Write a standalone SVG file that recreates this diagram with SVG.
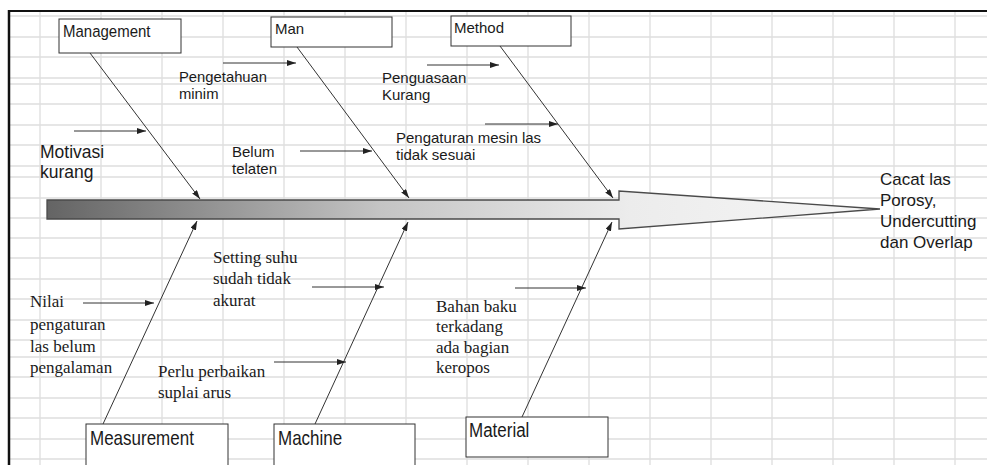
<svg xmlns="http://www.w3.org/2000/svg" width="987" height="465" viewBox="0 0 987 465">
<style>
.grid line{stroke:#dedede;stroke-width:1.3}
.box{fill:#fff;stroke:#333;stroke-width:1}
.sans{font-family:"Liberation Sans",Arial,sans-serif;fill:#1a1a1a}
.serif{font-family:"Liberation Serif","Times New Roman",serif;fill:#1a1a1a;font-size:17px}
.bone{stroke:#333;stroke-width:1;fill:none;marker-end:url(#ah)}
.sub{stroke:#333;stroke-width:1;fill:none;marker-end:url(#ah)}
</style>
<defs>
<marker id="ah" markerUnits="userSpaceOnUse" markerWidth="9" markerHeight="6" refX="9" refY="3" orient="auto">
<path d="M0,0 L9,3 L0,6 z" fill="#222"/>
</marker>
<linearGradient id="spine" x1="47" y1="0" x2="880" y2="0" gradientUnits="userSpaceOnUse">
<stop offset="0" stop-color="#646464"/>
<stop offset="0.4" stop-color="#c4c4c4"/>
<stop offset="0.7" stop-color="#ececec"/>
<stop offset="1" stop-color="#f6f6f6"/>
</linearGradient>
</defs>
<rect width="987" height="465" fill="#fff"/>
<g class="grid">
<line x1="40" y1="10" x2="40" y2="465"/><line x1="101" y1="10" x2="101" y2="465"/><line x1="162" y1="10" x2="162" y2="465"/><line x1="223" y1="10" x2="223" y2="465"/><line x1="284" y1="10" x2="284" y2="465"/><line x1="345" y1="10" x2="345" y2="465"/><line x1="406" y1="10" x2="406" y2="465"/><line x1="467" y1="10" x2="467" y2="465"/><line x1="528" y1="10" x2="528" y2="465"/><line x1="589" y1="10" x2="589" y2="465"/><line x1="650" y1="10" x2="650" y2="465"/><line x1="711" y1="10" x2="711" y2="465"/><line x1="772" y1="10" x2="772" y2="465"/><line x1="833" y1="10" x2="833" y2="465"/><line x1="894" y1="10" x2="894" y2="465"/><line x1="955" y1="10" x2="955" y2="465"/>
<line x1="9" y1="16" x2="987" y2="16"/><line x1="9" y1="37" x2="987" y2="37"/><line x1="9" y1="57" x2="987" y2="57"/><line x1="9" y1="78" x2="987" y2="78"/><line x1="9" y1="84" x2="987" y2="84"/><line x1="9" y1="104" x2="987" y2="104"/><line x1="9" y1="125" x2="987" y2="125"/><line x1="9" y1="145" x2="987" y2="145"/><line x1="9" y1="166" x2="987" y2="166"/><line x1="9" y1="177" x2="987" y2="177"/><line x1="9" y1="198" x2="987" y2="198"/><line x1="9" y1="218" x2="987" y2="218"/><line x1="9" y1="238" x2="987" y2="238"/><line x1="9" y1="258" x2="987" y2="258"/><line x1="9" y1="279" x2="987" y2="279"/><line x1="9" y1="299" x2="987" y2="299"/><line x1="9" y1="320" x2="987" y2="320"/><line x1="9" y1="340" x2="987" y2="340"/><line x1="9" y1="357" x2="987" y2="357"/><line x1="9" y1="377" x2="987" y2="377"/><line x1="9" y1="398" x2="987" y2="398"/><line x1="9" y1="418" x2="987" y2="418"/><line x1="9" y1="439" x2="987" y2="439"/><line x1="9" y1="459" x2="987" y2="459"/>
</g>
<line x1="8" y1="11" x2="987" y2="11" stroke="#111" stroke-width="2"/>
<line x1="9" y1="10" x2="9" y2="465" stroke="#111" stroke-width="2.5"/>

<g id="spine-arrow">
<polygon points="47,200 619,200 619,191 880,209 619,229 619,219 47,219" fill="url(#spine)" stroke="#4a4a4a" stroke-width="1.3"/>
</g>

<g id="effect">
<text class="sans" font-size="17" x="880"><tspan x="880" y="185">Cacat las</tspan><tspan x="880" y="206">Porosy,</tspan><tspan x="880" y="227">Undercutting</tspan><tspan x="880" y="248">dan Overlap</tspan></text>
</g>

<g id="connectors">
<line class="bone" x1="90" y1="53" x2="200" y2="199"/>
<line class="bone" x1="297" y1="47" x2="409" y2="198"/>
<line class="bone" x1="500" y1="46" x2="613" y2="198"/>
<line class="bone" x1="103" y1="424" x2="197" y2="221"/>
<line class="bone" x1="315" y1="424" x2="408" y2="222"/>
<line class="bone" x1="522" y1="417" x2="612" y2="222"/>
<line class="sub" x1="74" y1="131" x2="146" y2="131"/>
<line class="sub" x1="223" y1="63" x2="296" y2="63"/>
<line class="sub" x1="300" y1="151" x2="372" y2="151"/>
<line class="sub" x1="427" y1="65" x2="499" y2="65"/>
<line class="sub" x1="485" y1="124" x2="558" y2="124"/>
<line class="sub" x1="83" y1="303" x2="154" y2="303"/>
<line class="sub" x1="312" y1="287" x2="384" y2="287"/>
<line class="sub" x1="274" y1="362" x2="346" y2="362"/>
<line class="sub" x1="515" y1="288" x2="586" y2="288"/>
</g>

<g id="management">
<rect class="box" x="59" y="19" width="122" height="34"/>
<text class="sans" font-size="15" x="0" y="0" transform="translate(63,37) scale(1,1.15)">Management</text>
</g>
<g id="man">
<rect class="box" x="271" y="17" width="121" height="30"/>
<text class="sans" font-size="15" x="275" y="34">Man</text>
</g>
<g id="method">
<rect class="box" x="451" y="16" width="120" height="30"/>
<text class="sans" font-size="15" x="454" y="33">Method</text>
</g>
<g id="measurement">
<rect class="box" x="86" y="424" width="142" height="44"/>
<text class="sans" font-size="17" x="0" y="0" transform="translate(90,445) scale(1,1.18)">Measurement</text>
</g>
<g id="machine">
<rect class="box" x="274" y="424" width="141" height="44"/>
<text class="sans" font-size="17" x="0" y="0" transform="translate(278,445) scale(1,1.18)">Machine</text>
</g>
<g id="material">
<rect class="box" x="466" y="417" width="142" height="40"/>
<text class="sans" font-size="17" x="0" y="0" transform="translate(469,437) scale(1,1.15)">Material</text>
</g>

<g id="cause-motivasi">
<text class="sans" font-size="17.5"><tspan x="40" y="158">Motivasi</tspan><tspan x="40" y="178">kurang</tspan></text>
</g>
<g id="cause-pengetahuan">
<text class="sans" font-size="14.8"><tspan x="179" y="82">Pengetahuan</tspan><tspan x="179" y="99">minim</tspan></text>
</g>
<g id="cause-belum">
<text class="sans" font-size="15"><tspan x="232" y="157">Belum</tspan><tspan x="232" y="174">telaten</tspan></text>
</g>
<g id="cause-penguasaan">
<text class="sans" font-size="15"><tspan x="382" y="83">Penguasaan</tspan><tspan x="382" y="100">Kurang</tspan></text>
</g>
<g id="cause-pengaturan">
<text class="sans" font-size="15"><tspan x="396" y="143">Pengaturan mesin las</tspan><tspan x="396" y="160">tidak sesuai</tspan></text>
</g>
<g id="cause-nilai">
<text class="serif"><tspan x="30" y="307">Nilai</tspan><tspan x="30" y="330">pengaturan</tspan><tspan x="30" y="352">las belum</tspan><tspan x="30" y="373">pengalaman</tspan></text>
</g>
<g id="cause-setting">
<text class="serif"><tspan x="213" y="263">Setting suhu</tspan><tspan x="213" y="284">sudah tidak</tspan><tspan x="213" y="306">akurat</tspan></text>
</g>
<g id="cause-perlu">
<text class="serif"><tspan x="158" y="377">Perlu perbaikan</tspan><tspan x="158" y="398">suplai arus</tspan></text>
</g>
<g id="cause-bahan">
<text class="serif"><tspan x="436" y="312">Bahan baku</tspan><tspan x="436" y="332">terkadang</tspan><tspan x="436" y="353">ada bagian</tspan><tspan x="436" y="373">keropos</tspan></text>
</g>
</svg>
